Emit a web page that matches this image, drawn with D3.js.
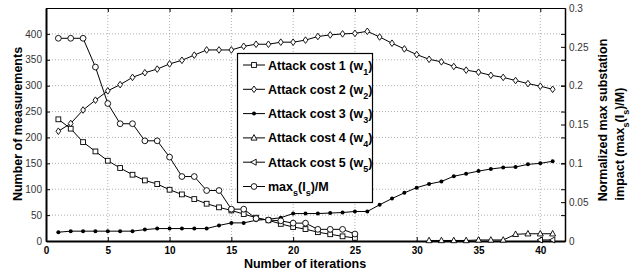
<!DOCTYPE html>
<html lang="en">
<head>
  <meta charset="UTF-8">
  <script src="https://d3js.org/d3.v7.min.js"></script>
  <style>
    body { margin: 0; background: #fff; }
    text { font-family: "Liberation Sans", Arial, sans-serif; }
  </style>
</head>
<body>
<script>
  // data
  const iter1 = d3.range(1, 26);          // series that run 1..25
  const iterAll = d3.range(1, 42);        // 1..41
  const cost1 = [235, 217, 191, 173, 155, 141, 128, 117, 110, 99, 90, 81, 72, 65, 59, 52, 45, 40, 33, 27, 23, 17, 13, 9, 6];
  const cost2 = [212, 227, 253, 272, 290, 302, 316, 325, 332, 342, 349, 359, 369, 369, 369, 376, 380, 380, 384, 384, 388, 395, 398, 400, 401,
                 405, 394, 382, 371, 360, 351, 346, 337, 330, 326, 320, 316, 310, 304, 299, 293];
  const cost3 = [17, 19, 19, 19, 19, 19, 19, 22, 24, 24, 24, 24, 24, 30, 35, 35, 40, 42, 45, 53, 53, 53, 54, 55, 57,
                 57, 70, 82, 93, 103, 110, 115, 125, 130, 135, 139, 142, 143, 148, 150, 154];
  const iter4 = d3.range(31, 42);
  const cost4 = [1, 1, 1, 1, 2, 2, 2, 13, 14, 14, 14];
  const iter5 = [40, 41];
  const cost5 = [2, 2];
  const maxImpact = [0.261, 0.261, 0.261, 0.224, 0.177, 0.151, 0.151, 0.129, 0.129, 0.108, 0.083, 0.083, 0.065, 0.065, 0.041,
                     0.041, 0.029, 0.027, 0.026, 0.023, 0.023, 0.015, 0.015, 0.015, 0.009];
  const xTicks = [0, 5, 10, 15, 20, 25, 30, 35, 40];
  const yTicks = [0, 50, 100, 150, 200, 250, 300, 350, 400];
  const y2Ticks = [0, 0.05, 0.1, 0.15, 0.2, 0.25, 0.3];

  const width = 634, height = 274;
  const margin = { top: 8, right: 69, bottom: 33, left: 46 };

  const svg = d3.select("body").append("svg")
    .attr("width", width).attr("height", height);

  const x = d3.scaleLinear().domain([0, 42]).range([margin.left, width - margin.right]);
  const y = d3.scaleLinear().domain([0, 450]).range([height - margin.bottom, margin.top]);
  const y2 = d3.scaleLinear().domain([0, 0.3]).range([height - margin.bottom, margin.top]);

  // grid
  const grid = svg.append("g").attr("stroke", "#999").attr("stroke-dasharray", "1,2").attr("stroke-width", 0.8);
  grid.selectAll(".gx").data(xTicks.slice(1)).join("line")
    .attr("x1", d => x(d)).attr("x2", d => x(d))
    .attr("y1", y(0)).attr("y2", y(450));
  grid.selectAll(".gy").data(yTicks.slice(1)).join("line")
    .attr("x1", x(0)).attr("x2", x(42))
    .attr("y1", d => y(d)).attr("y2", d => y(d));

  // axes
  const fmt2 = d => d === 0 ? "0" : d3.format("")(+d.toFixed(2));
  const axB = svg.append("g").attr("transform", `translate(0,${y(0)})`)
    .call(d3.axisBottom(x).tickValues(xTicks).tickSizeInner(-4).tickSizeOuter(0).tickPadding(6));
  axB.selectAll("text").attr("font-weight", "bold").attr("font-size", 10);
  const axT = svg.append("g").attr("transform", `translate(0,${y(450)})`)
    .call(d3.axisTop(x).tickValues(xTicks).tickSizeInner(-4).tickSizeOuter(0).tickFormat(""));
  const axL = svg.append("g").attr("transform", `translate(${x(0)},0)`)
    .call(d3.axisLeft(y).tickValues(yTicks).tickSizeInner(-4).tickSizeOuter(0).tickPadding(4));
  axL.selectAll("text").attr("font-size", 10).attr("fill", "#333");
  const axR0 = svg.append("g").attr("transform", `translate(${x(42)},0)`)
    .call(d3.axisRight(y).tickValues(yTicks).tickSizeInner(-4).tickSizeOuter(0).tickFormat(""));
  const axR = svg.append("g").attr("transform", `translate(${x(42)},0)`)
    .call(d3.axisRight(y2).tickValues(y2Ticks).tickSizeInner(-4).tickSizeOuter(0).tickPadding(4).tickFormat(fmt2));
  axR.selectAll("text").attr("font-size", 10).attr("fill", "#333");
  svg.selectAll(".domain").attr("stroke", "#000");
  axB.select(".domain").attr("stroke-width", 2);
  axL.select(".domain").attr("stroke-width", 2);
  axR.select(".domain").attr("stroke-width", 1.5);

  // series
  const line = d3.line();
  function series(xs, ys, scale, marker) {
    const pts = xs.map((d, i) => [x(d), scale(ys[i])]);
    svg.append("path").datum(pts).attr("d", line)
      .attr("fill", "none").attr("stroke", "#000").attr("stroke-width", 1);
    const g = svg.append("g");
    pts.forEach(p => drawMarker(g, marker, p[0], p[1]));
  }
  function drawMarker(g, m, cx, cy) {
    const s = 2.4;
    if (m === "square") g.append("rect").attr("x", cx - s).attr("y", cy - s).attr("width", 2 * s).attr("height", 2 * s);
    else if (m === "diamond") g.append("path").attr("d", `M${cx},${cy - 3.3}L${cx + 2.4},${cy}L${cx},${cy + 3.3}L${cx - 2.4},${cy}Z`);
    else if (m === "dot") g.append("circle").attr("cx", cx).attr("cy", cy).attr("r", 2).attr("fill", "#000");
    else if (m === "tri") g.append("path").attr("d", `M${cx},${cy - 3.3}L${cx + 3},${cy + 2.2}L${cx - 3},${cy + 2.2}Z`);
    else if (m === "triL") g.append("path").attr("d", `M${cx - 3.3},${cy}L${cx + 2.2},${cy - 3}L${cx + 2.2},${cy + 3}Z`);
    else if (m === "circle") g.append("circle").attr("cx", cx).attr("cy", cy).attr("r", 2.9);
    g.selectAll("*").filter(function () { return !this.getAttribute("fill"); })
      .attr("fill", "#fff").attr("stroke", "#000").attr("stroke-width", 0.9);
  }
  series(iter1, cost1, y, "square");
  series(iterAll, cost2, y, "diamond");
  series(iterAll, cost3, y, "dot");
  series(iter4, cost4, y, "tri");
  series(iter5, cost5, y, "triL");
  series(iter1, maxImpact, y2, "circle");

  // legend
  const legendItems = [
    { m: "square", t: "Attack cost 1 (w", s: "1", e: ")" },
    { m: "diamond", t: "Attack cost 2 (w", s: "2", e: ")" },
    { m: "dot", t: "Attack cost 3 (w", s: "3", e: ")" },
    { m: "tri", t: "Attack cost 4 (w", s: "4", e: ")" },
    { m: "triL", t: "Attack cost 5 (w", s: "5", e: ")" },
    { m: "max", t: "", s: "", e: "" }
  ];
  const lg = svg.append("g");
  lg.append("rect").attr("x", 237.5).attr("y", 53.5).attr("width", 135).attr("height", 149)
    .attr("fill", "#fff").attr("stroke", "#000").attr("stroke-width", 1.2);
  legendItems.forEach((d, i) => {
    const ly = 65 + i * 24.3;
    lg.append("line").attr("x1", 243).attr("x2", 265).attr("y1", ly).attr("y2", ly)
      .attr("stroke", "#000").attr("stroke-width", 1);
    drawMarker(lg.append("g"), d.m === "max" ? "circle" : d.m, 254, ly);
    const t = lg.append("text").attr("x", 268).attr("y", ly + 4.5)
      .attr("font-weight", "bold").attr("font-size", 12.5);
    if (d.m === "max") {
      t.append("tspan").text("max");
      t.append("tspan").attr("font-size", 9).attr("dy", 5).text("s");
      t.append("tspan").attr("dy", -5).text("(I");
      t.append("tspan").attr("font-size", 9).attr("dy", 5).text("s");
      t.append("tspan").attr("dy", -5).text(")/M");
    } else {
      t.append("tspan").text(d.t);
      t.append("tspan").attr("font-size", 9).attr("dy", 5).text(d.s);
      t.append("tspan").attr("dy", -5).text(d.e);
    }
  });

  // axis titles
  svg.append("text").attr("x", 305).attr("y", 268).attr("text-anchor", "middle")
    .attr("font-weight", "bold").attr("font-size", 12.5).text("Number of iterations");
  svg.append("text").attr("transform", "translate(22,124) rotate(-90)").attr("text-anchor", "middle")
    .attr("font-weight", "bold").attr("font-size", 12.5).text("Number of measurements");
  svg.append("text").attr("transform", "translate(607,120) rotate(-90)").attr("text-anchor", "middle")
    .attr("font-weight", "bold").attr("font-size", 12.5).text("Normalized max substation");
  const r2 = svg.append("text").attr("transform", "translate(624,144) rotate(-90)").attr("text-anchor", "middle")
    .attr("font-weight", "bold").attr("font-size", 12.5);
  r2.append("tspan").text("impact (max");
  r2.append("tspan").attr("font-size", 9).attr("dy", 5).text("s");
  r2.append("tspan").attr("dy", -5).text("(I");
  r2.append("tspan").attr("font-size", 9).attr("dy", 5).text("s");
  r2.append("tspan").attr("dy", -5).text(")/M)");
</script>
</body>
</html>
